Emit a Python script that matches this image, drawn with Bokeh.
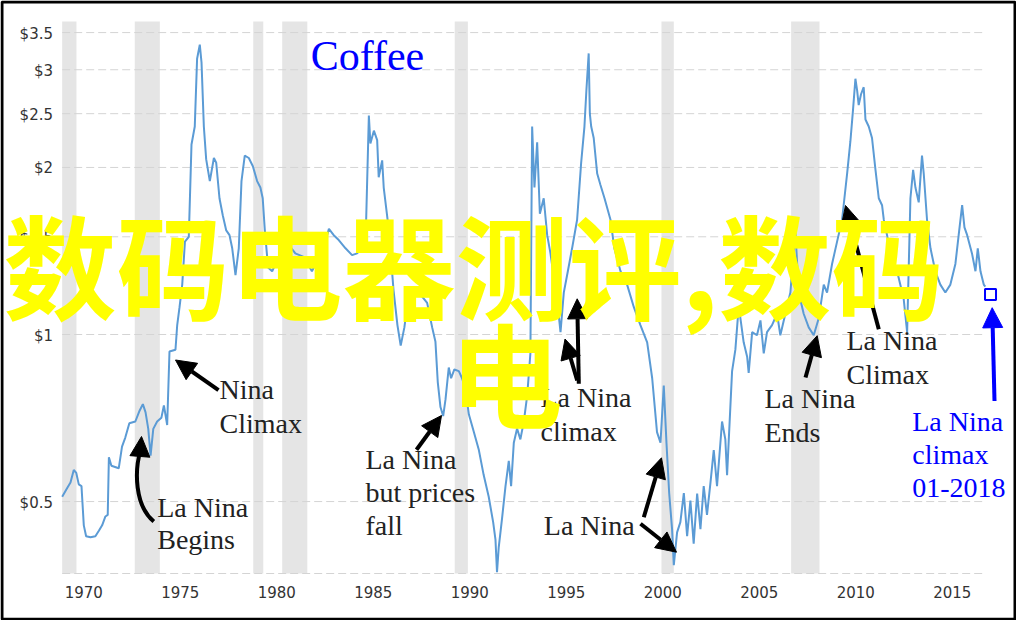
import math
from bokeh.plotting import figure
from bokeh.models import Range1d, Label, Arrow, NormalHead
from bokeh.core.properties import value
from bokeh.embed import file_html
from bokeh.resources import INLINE

# ---------------- data ----------------
years = [
    1968.88, 1969.14, 1969.31, 1969.48, 1969.61, 1969.74, 1969.88, 1970.00, 1970.12, 1970.35,
    1970.60, 1970.78, 1970.95, 1971.12, 1971.24, 1971.30, 1971.43, 1971.81, 1971.98, 1972.15,
    1972.36, 1972.67, 1972.89, 1973.06, 1973.20, 1973.34, 1973.46, 1973.60, 1973.80, 1974.02,
    1974.15, 1974.32, 1974.44, 1974.75, 1974.84, 1974.96, 1975.10, 1975.24, 1975.44, 1975.58,
    1975.75, 1975.87, 1976.01, 1976.10, 1976.22, 1976.34, 1976.53, 1976.74, 1976.86, 1977.03,
    1977.20, 1977.38, 1977.55, 1977.69, 1977.86, 1978.03, 1978.17, 1978.34, 1978.55, 1978.76,
    1978.98, 1979.15, 1979.27, 1979.38, 1979.55, 1979.76, 1980.10, 1980.40, 1980.62, 1980.96,
    1981.39, 1981.82, 1982.10, 1982.35, 1982.70, 1982.95, 1983.21, 1983.56, 1983.90, 1984.16,
    1984.42, 1984.63, 1984.77, 1984.85, 1985.03, 1985.20, 1985.28, 1985.46, 1985.54, 1985.75,
    1985.90, 1986.05, 1986.25, 1986.42, 1986.61, 1986.75, 1987.01, 1987.27, 1987.53, 1987.79,
    1988.05, 1988.22, 1988.34, 1988.48, 1988.62, 1988.74, 1988.91, 1989.03, 1989.20, 1989.43,
    1989.60, 1989.77, 1989.95, 1990.21, 1990.47, 1990.72, 1990.98, 1991.21, 1991.33, 1991.41,
    1991.50, 1991.67, 1991.85, 1992.02, 1992.14, 1992.28, 1992.45, 1992.62, 1992.80, 1992.97,
    1993.14, 1993.23, 1993.35, 1993.49, 1993.63, 1993.83, 1994.01, 1994.18, 1994.35, 1994.52,
    1994.70, 1994.87, 1995.08, 1995.30, 1995.56, 1995.77, 1995.94, 1996.04, 1996.16, 1996.22,
    1996.29, 1996.42, 1996.60, 1996.77, 1996.98, 1997.29, 1997.49, 1997.81, 1998.15, 1998.50,
    1998.84, 1999.19, 1999.45, 1999.70, 1999.88, 2000.05, 2000.19, 2000.33, 2000.48, 2000.57,
    2000.74, 2000.91, 2001.09, 2001.26, 2001.43, 2001.60, 2001.78, 2001.95, 2002.12, 2002.29,
    2002.47, 2002.64, 2002.81, 2003.07, 2003.24, 2003.33, 2003.50, 2003.59, 2003.76, 2003.93,
    2004.02, 2004.19, 2004.37, 2004.45, 2004.63, 2004.88, 2005.06, 2005.23, 2005.40, 2005.66,
    2005.92, 2006.09, 2006.35, 2006.61, 2006.87, 2007.04, 2007.30, 2007.56, 2007.82, 2008.08,
    2008.34, 2008.51, 2008.77, 2009.03, 2009.29, 2009.41, 2009.55, 2009.72, 2009.86, 2009.98,
    2010.07, 2010.15, 2010.27, 2010.41, 2010.50, 2010.67, 2010.84, 2011.02, 2011.19, 2011.36,
    2011.45, 2011.62, 2011.79, 2012.14, 2012.48, 2012.66, 2012.83, 2012.97, 2013.09, 2013.26,
    2013.43, 2013.52, 2013.69, 2013.87, 2014.12, 2014.38, 2014.64, 2014.90, 2015.16, 2015.33,
    2015.51, 2015.63, 2015.77, 2016.02, 2016.20, 2016.32, 2016.46, 2016.63, 2016.71,
]
prices = [
    0.510, 0.529, 0.541, 0.570, 0.563, 0.537, 0.533, 0.453, 0.433, 0.431,
    0.433, 0.443, 0.453, 0.470, 0.473, 0.601, 0.580, 0.574, 0.628, 0.652,
    0.692, 0.697, 0.729, 0.749, 0.724, 0.676, 0.605, 0.676, 0.697, 0.708,
    0.745, 0.687, 0.932, 0.939, 1.04, 1.12, 1.23, 1.47, 1.50, 2.20,
    2.37, 3.14, 3.33, 3.09, 2.37, 2.07, 1.89, 2.08, 2.04, 1.76,
    1.64, 1.54, 1.51, 1.43, 1.28, 1.43, 1.89, 2.10, 2.08, 2.01,
    1.89, 1.84, 1.76, 1.54, 1.32, 1.30, 1.38, 1.42, 1.45, 1.40,
    1.38, 1.30, 1.36, 1.40, 1.55, 1.51, 1.48, 1.43, 1.39, 1.40,
    1.43, 1.61, 2.48, 2.21, 2.33, 2.24, 1.92, 2.06, 1.84, 1.60,
    1.40, 1.20, 1.04, 0.955, 1.03, 1.12, 1.17, 1.21, 1.17, 1.14,
    1.03, 0.97, 0.821, 0.740, 0.713, 0.763, 0.872, 0.834, 0.865, 0.859,
    0.834, 0.797, 0.718, 0.667, 0.619, 0.558, 0.510, 0.459, 0.427, 0.373,
    0.414, 0.466, 0.533, 0.592, 0.533, 0.638, 0.677, 0.647, 0.697, 0.774,
    0.925, 2.37, 1.84, 2.22, 1.65, 1.76, 1.51, 1.40, 1.27, 1.16,
    1.01, 1.19, 1.30, 1.43, 1.61, 2.04, 2.37, 2.75, 3.21, 2.50,
    2.37, 2.26, 1.95, 1.86, 1.76, 1.61, 1.43, 1.30, 1.23, 1.12,
    1.04, 0.968, 0.834, 0.667, 0.638, 0.809, 0.638, 0.518, 0.446, 0.384,
    0.440, 0.459, 0.518, 0.433, 0.502, 0.420, 0.517, 0.446, 0.533, 0.473,
    0.541, 0.619, 0.533, 0.697, 0.647, 0.558, 0.740, 0.859, 0.939, 1.12,
    1.07, 0.968, 0.912, 0.853, 1.01, 0.997, 1.06, 0.925, 1.01, 1.04,
    1.09, 0.997, 1.09, 1.19, 1.54, 1.19, 1.09, 1.03, 0.997, 1.07,
    1.23, 1.19, 1.34, 1.47, 1.61, 1.76, 1.95, 2.23, 2.55, 2.89,
    2.75, 2.59, 2.71, 2.79, 2.44, 2.37, 2.26, 1.98, 1.76, 1.71,
    1.61, 1.51, 1.40, 1.30, 1.16, 1.01, 1.76, 1.98, 1.84, 1.73,
    2.10, 1.95, 1.61, 1.43, 1.30, 1.23, 1.19, 1.23, 1.34, 1.51,
    1.71, 1.56, 1.51, 1.40, 1.30, 1.43, 1.30, 1.23, 1.22,
]
band_starts = [1968.88, 1972.64, 1978.78, 1980.28, 1989.22, 1999.93, 2006.65]
band_ends = [1969.62, 1973.94, 1979.30, 1981.58, 1989.90, 2000.57, 2008.12]
y_ticks = [0.5, 1, 1.5, 2, 2.5, 3, 3.5]
y_tick_labels = ["$0.5", "$1", "$1.5", "$2", "$2.5", "$3", "$3.5"]
x_ticks = [1970, 1975, 1980, 1985, 1990, 1995, 2000, 2005, 2010, 2015]
x_tick_labels = [str(t) for t in x_ticks]
marker_year = [2016.98]
marker_price = [1.18]
title_text = "Coffee"
watermark_lines = ["数码电器测评,数码", "电"]

# ---------------- layout ----------------
W, H = 1016, 620
PX_PER_YEAR = 19.30      # horizontal scale
PX_1970 = 83.3           # pixel of 1970
PX_PER_LN = 241.0        # vertical (log) scale
PX_ONE = 334.0           # pixel of $1
PLOT_TOP_PX, PLOT_BOTTOM_PX = 21, 573


def ref(px, py):
    """picture pixel -> data coordinates (layout positions only)"""
    return (1970 + (px - PX_1970) / PX_PER_YEAR,
            math.exp((PX_ONE - py) / PX_PER_LN))


x0, y_top = ref(0, 0)
x1, y_bot = ref(W, H)
_, plot_top = ref(0, PLOT_TOP_PX)
_, plot_bottom = ref(0, PLOT_BOTTOM_PX)

p = figure(width=W, height=H, output_backend="svg", toolbar_location=None,
           y_axis_type="log", x_axis_location=None, y_axis_location=None,
           x_range=Range1d(x0, x1), y_range=Range1d(y_bot, y_top),
           min_border=0, min_border_left=0, min_border_right=0,
           min_border_top=0, min_border_bottom=0)
p.outline_line_color = None
p.background_fill_color = "white"
p.border_fill_color = "white"
p.grid.visible = False

# grey bands
nb = len(band_starts)
p.quad(left=band_starts, right=band_ends, bottom=[plot_bottom] * nb, top=[plot_top] * nb,
       fill_color="#e5e5e5", line_color=None)

# dashed horizontal grid lines (and baseline) over the data period
grid_vals = y_ticks + [plot_bottom]
n = len(grid_vals)
p.segment(x0=[years[0]] * n, x1=[years[-1]] * n, y0=grid_vals, y1=grid_vals,
          line_color="#d4d4d4", line_width=1, line_dash="8 4")

# tick labels
lab_x, _ = ref(52.5, 0)
p.text(x=[lab_x] * len(y_ticks), y=y_ticks, text=y_tick_labels,
       text_font=value("DejaVu Sans"), text_font_size=value("15px"),
       text_color="#333333", text_align="right", text_baseline="middle", y_offset=1)
_, lab_y = ref(0, 591.5)
p.text(x=x_ticks, y=[lab_y] * len(x_ticks), text=x_tick_labels,
       text_font=value("DejaVu Sans"), text_font_size=value("15px"),
       text_color="#333333", text_align="center", text_baseline="middle")

# price line
p.line(years, prices, line_color="#5b9bd5", line_width=2)

# marker
p.scatter(marker_year, marker_price, marker="square", size=11, fill_color="white",
          line_color="#0000ff", line_width=2)

# picture frame
bl = ref(1.5, 618.8)
tr = ref(1014.5, 1.5)
p.quad(left=[bl[0]], right=[tr[0]], bottom=[bl[1]], top=[tr[1]], fill_color=None,
       line_color="black", line_width=3)

SERIF = "Liberation Serif"
BLACK = "#222222"
BLUE = "#0000ff"
# vertical distance from the text's baseline to the label anchor
ANCHOR_SHIFT = {"28px": 12, "42px": 15, "113px": 51}


def text(t, px, py, color=BLACK, size="28px", font=SERIF, align="left", style="normal"):
    x, y = ref(px, py - ANCHOR_SHIFT[size])
    p.add_layout(Label(x=x, y=y, text=t, text_color=color, text_font_size=size,
                       text_font=font, text_align=align, text_baseline="middle",
                       text_font_style=style))


def arrow(xa, ya, xb, yb, color="black", head=20):
    a0, b0 = ref(xa, ya)
    a1, b1 = ref(xb, yb)
    p.add_layout(Arrow(x_start=a0, y_start=b0, x_end=a1, y_end=b1, line_color=color,
                       line_width=4,
                       end=NormalHead(size=head, fill_color=color, line_color=color, line_width=1)))


# title (baseline pixel given)
text(title_text, 367, 70, color=BLUE, size="42px", align="center")

# annotations
text("Nina", 219, 400.5)
text("Climax", 219, 434.6)
arrow(218, 389.7, 175, 359.5)

text("La Nina", 156.7, 519)
text("Begins", 156.7, 551)
bx0, by0 = ref(153.3, 521)
bx1, by1 = ref(140, 450)
c0x, c0y = ref(134, 505)
c1x, c1y = ref(134, 470)
p.bezier(x0=[bx0], y0=[by0], x1=[bx1], y1=[by1], cx0=[c0x], cy0=[c0y], cx1=[c1x], cy1=[c1y],
         line_color="black", line_width=4)
arrow(139.5, 455, 141, 436)

text("La Nina", 365, 470.7)
text("but prices", 365, 503.5)
text("fall", 365, 537)
arrow(416, 449.3, 441, 415)

text("La Nina", 540, 409)
text("climax", 540, 443.3)
arrow(578.3, 383.3, 576.7, 298.3)
arrow(576.7, 380, 564.5, 338.5)

text("La Nina", 543.3, 537.3)
arrow(643.3, 516.7, 661, 457.3)
arrow(640, 523.3, 676, 551.7)

text("La Nina", 764, 409.5)
text("Ends", 764, 443.6)
arrow(805, 377, 816.7, 335.2)

text("La Nina", 846, 352)
text("Climax", 846, 386)
arrow(878.3, 328.7, 845, 205)

text("La Nina", 911.7, 432.8, color=BLUE)
text("climax", 911.7, 465.5, color=BLUE)
text("01-2018", 911.7, 499, color=BLUE)
arrow(994, 400.5, 991.7, 307.2, color=BLUE)

# yellow watermark overlay
text(watermark_lines[0], 3, 312, color="#ffff00", size="113px", font="Noto Sans CJK SC",
     style="bold")
text(watermark_lines[1], 449, 420, color="#ffff00", size="113px", font="Noto Sans CJK SC",
     style="bold")

open("out.html", "w").write(file_html(p, INLINE))
